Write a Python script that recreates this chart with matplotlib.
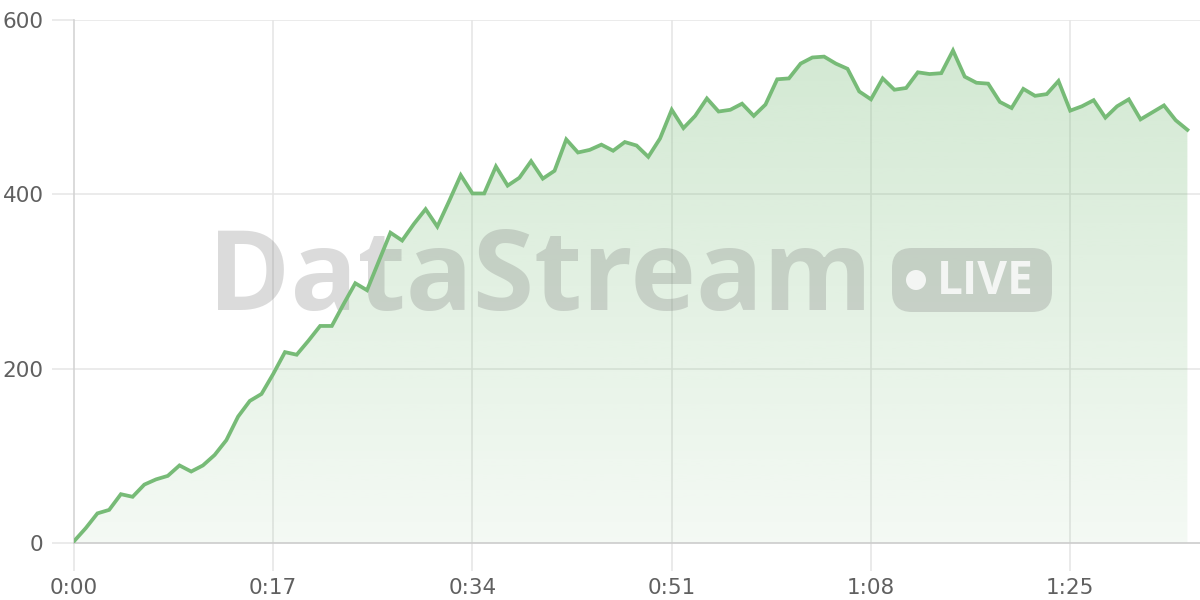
import matplotlib
matplotlib.use("Agg")
import matplotlib.pyplot as plt
import numpy as np
from matplotlib.patches import FancyBboxPatch, Circle

# viewers per second
seconds = list(range(96))
viewers = [2, 17, 34, 38, 56, 53, 67, 73, 77, 89, 82, 89, 101, 118, 145, 163,
           171, 194, 219, 216, 232, 249, 249, 274, 298, 290, 323, 356, 347, 366,
           383, 363, 392, 422, 401, 401, 432, 410, 419, 438, 418, 427, 463, 448,
           451, 457, 450, 460, 456, 443, 464, 497, 476, 490, 510, 495, 497, 504,
           490, 503, 532, 533, 550, 557, 558, 550, 544, 518, 509, 533, 520, 522,
           540, 538, 539, 565, 535, 528, 527, 506, 499, 521, 513, 515, 530, 496,
           501, 508, 488, 501, 509, 486, 494, 502, 485, 474]
x_ticks = [0, 17, 34, 51, 68, 85]
y_ticks = [0, 200, 400, 600]

green = "#77bb77"
plt.rcParams['font.family'] = ['DejaVu Sans']

fig = plt.figure(figsize=(12, 6), dpi=100)
ax = fig.add_axes([74 / 1200, 57 / 600, 1126 / 1200, 523 / 600])
ax.set_xlim(0, 1126 / 11.72)
ax.set_ylim(0, 600)

# gradient fill under the line
grad = np.linspace(0.08, 0.34, 256).reshape(-1, 1)
rgba = np.zeros((256, 1, 4))
rgba[:, :, 0] = 0x77 / 255
rgba[:, :, 1] = 0xbb / 255
rgba[:, :, 2] = 0x77 / 255
rgba[:, :, 3] = grad
img = ax.imshow(rgba, extent=[0, seconds[-1], 0, 600], origin="lower",
                aspect="auto", zorder=1)
poly = ax.fill_between(seconds, viewers, 0, color="none", lw=0)
img.set_clip_path(poly.get_paths()[0], transform=ax.transData)

ax.plot(seconds, viewers, color=green, lw=2.7, zorder=4, solid_joinstyle="miter")

# grid
for v in y_ticks[1:]:
    ax.axhline(v, color="#e8e8e8", lw=1.2, zorder=0)
for t in x_ticks[1:]:
    ax.axvline(t, color="#e6e6e6", lw=1.2, zorder=0)

for s in ["top", "right"]:
    ax.spines[s].set_visible(False)
ax.spines["left"].set_color("#d4d4d4")
ax.spines["bottom"].set_color("#cccccc")
ax.spines["left"].set_linewidth(1.2)
ax.spines["bottom"].set_linewidth(1.2)

ax.set_xticks(x_ticks)
ax.set_xticklabels([f"{t // 60}:{t % 60:02d}" for t in x_ticks])
ax.set_yticks(y_ticks)
ax.tick_params(axis="x", length=20, width=1.2, color="#e6e6e6", pad=5,
               labelsize=15.5, labelcolor="#606060")
ax.tick_params(axis="y", length=16, width=1.2, color="#e8e8e8", pad=6,
               labelsize=15.5, labelcolor="#606060")

# watermark, under the line but over the fill (positions in inches, 1in = 100px)
inch = fig.dpi_scale_trans
ax.text(5.40, 2.90, "DataStream", transform=inch, ha="center", va="baseline",
        fontsize=80, fontweight="bold", family=["Open Sans", "Roboto"],
        color="#6b6b6b", alpha=0.24, zorder=3, clip_on=False)
badge = FancyBboxPatch((8.92, 2.88), 1.60, 0.64,
                       boxstyle="round,pad=0,rounding_size=0.2",
                       transform=inch, facecolor="#6b6b6b",
                       alpha=0.24, lw=0, zorder=3, clip_on=False)
ax.add_artist(badge)
dot = Circle((9.16, 3.20), 0.10, transform=inch, facecolor="white",
             alpha=0.8, lw=0, zorder=3, clip_on=False)
ax.add_artist(dot)
ax.text(9.855, 3.19, "LIVE", transform=inch, ha="center", va="center",
        fontsize=33, fontweight="bold", family=["Open Sans", "Roboto"],
        color="white", alpha=0.8, zorder=3, clip_on=False)

fig.savefig("out.png", dpi=100)
